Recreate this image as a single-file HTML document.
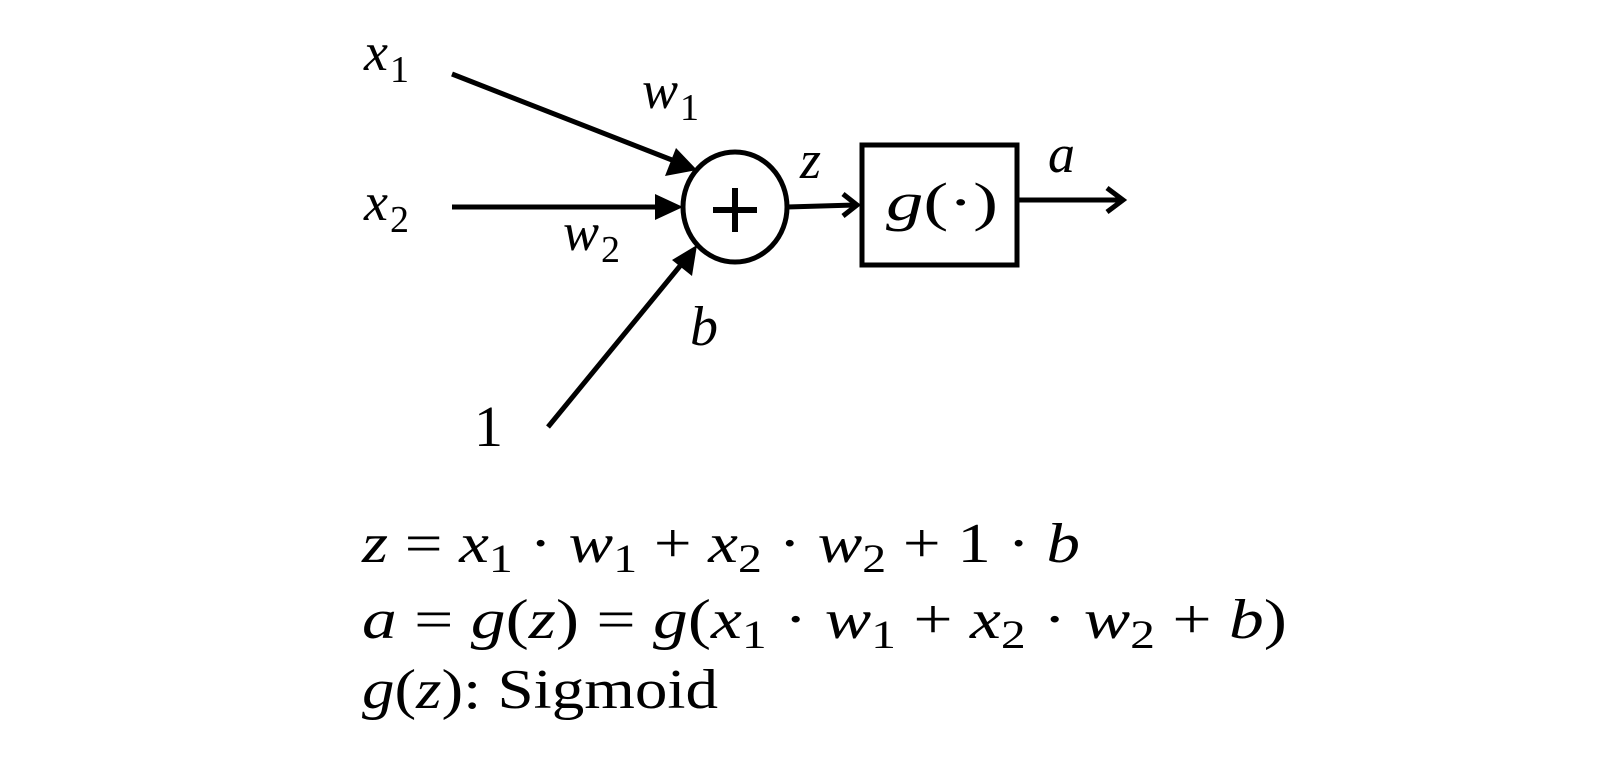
<!DOCTYPE html>
<html><head><meta charset="utf-8"><style>
html,body{margin:0;padding:0;background:#fff;}
svg{display:block}
text{font-family:"Liberation Serif",serif;fill:#000}
.i{font-style:italic}
</style></head><body>
<svg width="1600" height="780" viewBox="0 0 1600 780" xmlns="http://www.w3.org/2000/svg">
<g stroke="#000" stroke-width="5" fill="none">
<line x1="452" y1="74" x2="672" y2="160"/>
<line x1="452" y1="207" x2="660" y2="207"/>
<line x1="548" y1="427" x2="680" y2="266"/>
<ellipse cx="735" cy="207" rx="52" ry="55"/>
<line x1="787" y1="207" x2="855" y2="205"/>
<polyline points="843,194 857,205 843,216"/>
<rect x="862" y="145" width="155" height="120"/>
<line x1="1017" y1="200" x2="1122" y2="200"/>
<polyline points="1107,188 1123,200 1107,212"/>
<line x1="713" y1="210" x2="757" y2="210" stroke-width="6"/>
<line x1="735" y1="188" x2="735" y2="232" stroke-width="6"/>
</g>
<g fill="#000">
<polygon points="697,170 665,176 676,148"/>
<polygon points="683,207 655,194 655,220"/>
<polygon points="697,245 692,276 672,260"/>
</g>
<text class="i" x="364" y="70" font-size="54">x</text><text x="390" y="82" font-size="38">1</text>
<text class="i" x="364" y="220" font-size="54">x</text><text x="390" y="232" font-size="38">2</text>
<text class="i" x="642" y="108" font-size="54">w</text><text x="680" y="120" font-size="38">1</text>
<text class="i" x="563" y="250" font-size="54">w</text><text x="601" y="262" font-size="38">2</text>
<text class="i" x="690" y="345" font-size="56">b</text>
<text x="474" y="446" font-size="58">1</text>
<text class="i" x="800" y="178" font-size="54">z</text>
<text class="i" x="1048" y="172" font-size="54">a</text>
<text x="886" y="220" font-size="54" textLength="112" lengthAdjust="spacingAndGlyphs"><tspan class="i">g</tspan>(·)</text>
<text x="362" y="562" font-size="56" textLength="718" lengthAdjust="spacingAndGlyphs"><tspan class="i">z</tspan> = <tspan class="i">x</tspan><tspan font-size="40" dy="10">1</tspan><tspan dy="-10"> · </tspan><tspan class="i">w</tspan><tspan font-size="40" dy="10">1</tspan><tspan dy="-10"> + </tspan><tspan class="i">x</tspan><tspan font-size="40" dy="10">2</tspan><tspan dy="-10"> · </tspan><tspan class="i">w</tspan><tspan font-size="40" dy="10">2</tspan><tspan dy="-10"> + 1 · </tspan><tspan class="i">b</tspan></text>
<text x="362" y="638" font-size="56" textLength="925" lengthAdjust="spacingAndGlyphs"><tspan class="i">a</tspan> = <tspan class="i">g</tspan>(<tspan class="i">z</tspan>) = <tspan class="i">g</tspan>(<tspan class="i">x</tspan><tspan font-size="40" dy="10">1</tspan><tspan dy="-10"> · </tspan><tspan class="i">w</tspan><tspan font-size="40" dy="10">1</tspan><tspan dy="-10"> + </tspan><tspan class="i">x</tspan><tspan font-size="40" dy="10">2</tspan><tspan dy="-10"> · </tspan><tspan class="i">w</tspan><tspan font-size="40" dy="10">2</tspan><tspan dy="-10"> + </tspan><tspan class="i">b</tspan>)</text>
<text x="362" y="708" font-size="56" textLength="356" lengthAdjust="spacingAndGlyphs"><tspan class="i">g</tspan>(<tspan class="i">z</tspan>): Sigmoid</text>
</svg>
</body></html>
